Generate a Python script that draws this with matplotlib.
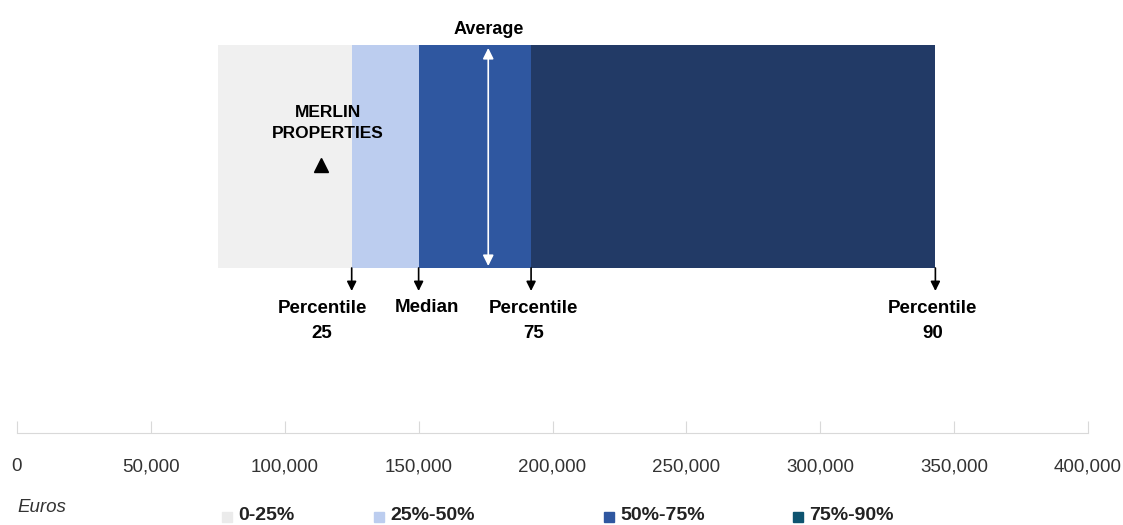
import numpy as np
import matplotlib.pyplot as plt
from matplotlib.patches import Rectangle

plt.rcParams['font.family'] = ['Liberation Sans Narrow', 'Liberation Sans', 'DejaVu Sans']

# salary distribution (euros)
bar_start = 75000
p25 = 125000
median = 150000
average = 176000
p75 = 192000
p90 = 343000
merlin = 113500

segments = ['0-25%', '25%-50%', '50%-75%', '75%-90%']
bounds = [bar_start, p25, median, p75, p90]
bar_colors = ['#f0f0f0', '#bccdef', '#2f57a0', '#223a66']
legend_colors = ['#ebebeb', '#bccdef', '#2f57a0', '#0e5470']
ticks = np.arange(0, 400001, 50000)

W, H = 1123, 525
fig = plt.figure(figsize=(W / 100, H / 100), dpi=100)

# main drawing axes: x in euros, y in pixels from top
s = 400000 / 1071
x0 = -17 * s
ax = fig.add_axes([0, 0, 1, 1])
ax.set_xlim(x0, x0 + W * s)
ax.set_ylim(H, 0)
ax.axis('off')

bar_top, bar_bot = 45, 268
for i in range(4):
    ax.barh((bar_top + bar_bot) / 2, bounds[i + 1] - bounds[i], left=bounds[i],
            height=bar_bot - bar_top, color=bar_colors[i], linewidth=0)

# average double arrow
ax.annotate('', xy=(average, 48), xytext=(average, 266),
            arrowprops=dict(arrowstyle='<|-|>', color='white', lw=1.2, mutation_scale=16,
                            shrinkA=0, shrinkB=0))
ax.text(average, 29, 'Average', ha='center', va='center', fontsize=13, fontweight='bold')

# merlin marker
ax.text(merlin + 2500, 123, 'MERLIN\nPROPERTIES', ha='center', va='center', fontsize=12.5,
        fontweight='bold', linespacing=1.5)
ax.plot([merlin], [165], marker='^', color='black', markersize=10)

# percentile arrows
for v in [p25, median, p75, p90]:
    ax.annotate('', xy=(v, 291), xytext=(v, 268),
                arrowprops=dict(arrowstyle='-|>', color='black', lw=1.2, mutation_scale=14,
                                shrinkA=0, shrinkB=0))

lab_kw = dict(ha='center', va='center', fontsize=13.5, fontweight='bold', linespacing=1.65)
ax.text(p25 - 11000, 321, 'Percentile\n25', **lab_kw)
ax.text(median + 3000, 308, 'Median', **lab_kw)
ax.text(p75 + 1000, 321, 'Percentile\n75', **lab_kw)
ax.text(p90 - 1000, 321, 'Percentile\n90', **lab_kw)

# x axis
axx = fig.add_axes([17 / W, 1 - 433 / H, 1071 / W, 0.0001])
axx.set_xlim(0, 400000)
axx.set_yticks([])
for sp in ['left', 'right', 'top']:
    axx.spines[sp].set_visible(False)
axx.spines['bottom'].set_color('#d9d9d9')
axx.set_xticks(ticks)
axx.set_xticklabels([f'{t:,}' for t in ticks])
axx.tick_params(axis='x', direction='in', length=9, color='#d9d9d9', pad=18,
                labelsize=13.5, labelcolor='#333333')

# footer
ax.text(0, 508, 'Euros', ha='left', va='center', fontsize=13.5, style='italic',
        color='#333333')
leg_x = [222, 374, 604, 793]
for i in range(4):
    fig.patches.append(Rectangle((leg_x[i] / W, 1 - 522 / H), 10 / W, 10 / H,
                                 transform=fig.transFigure, color=legend_colors[i]))
    fig.text((leg_x[i] + 16) / W, 1 - 516 / H, segments[i], ha='left', va='center',
             fontsize=14, fontweight='bold', color='#222222')

fig.savefig('out.png', dpi=100)
